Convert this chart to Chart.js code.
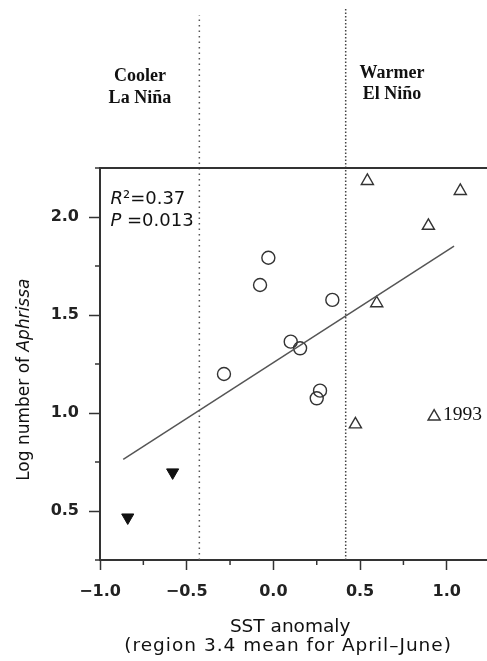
<!DOCTYPE html>
<html>
<head>
<meta charset="utf-8">
<script src="https://cdn.jsdelivr.net/npm/chart.js@4.4.0/dist/chart.umd.min.js"></script>
<style>
  html, body { margin: 0; padding: 0; background: #fff; }
  #wrap { width: 487px; height: 661px; }
</style>
</head>
<body>
<div id="wrap"><canvas id="c" width="487" height="661"></canvas></div>
<script>
// --- Data ---
// neutral years (open circles)
const normalX = [-0.285, -0.077, -0.029, 0.100, 0.154, 0.250, 0.269, 0.340];
const normalY = [1.199, 1.653, 1.792, 1.364, 1.330, 1.075, 1.114, 1.577];
// El Niño years (open triangles)
const ninoX = [0.473, 0.542, 0.596, 0.894, 0.927, 1.078];
const ninoY = [0.942, 2.184, 1.560, 1.955, 0.982, 2.133];
// La Niña years (filled, pointing down)
const ninaX = [-0.840, -0.581];
const ninaY = [0.467, 0.697];
// regression line end points
const fitX = [-0.866, 1.042];
const fitY = [0.764, 1.852];
// dotted threshold lines
const thresholdX = [-0.427, 0.417];
const thresholdTop = [3.03, 3.07];

const xTicks = [-1.0, -0.75, -0.5, -0.25, 0, 0.25, 0.5, 0.75, 1.0];
const yTicks = [0.25, 0.5, 0.75, 1.0, 1.25, 1.5, 1.75, 2.0, 2.25];

const ink = '#333';
const sans = 'DejaVu Sans';
const serif = 'Liberation Serif';

const xy = (xs, ys) => xs.map((x, i) => ({ x, y: ys[i] }));
const isMajor = v => Math.abs(v * 2 - Math.round(v * 2)) < 1e-6;
const fmt = v => v.toFixed(1).replace('-', '\u2212');

// draw a line of text made of runs with different fonts
function drawRuns(ctx, runs, x, y, align) {
    let total = 0;
    runs.forEach(r => { ctx.font = r.font; total += ctx.measureText(r.text).width; });
    let cx = align === 'center' ? x - total / 2 : x;
    ctx.textAlign = 'left';
    ctx.textBaseline = 'middle';
    runs.forEach(r => {
        ctx.font = r.font;
        ctx.fillText(r.text, cx, y);
        cx += ctx.measureText(r.text).width;
    });
}

const annotate = {
    id: 'annotate',
    afterDraw(chart) {
        const { ctx, chartArea: a, scales: { x, y } } = chart;
        ctx.save();
        ctx.strokeStyle = ink;

        // minor ticks (shorter)
        ctx.lineWidth = 1.5;
        xTicks.filter(v => !isMajor(v)).forEach(v => {
            const px = x.getPixelForValue(v);
            ctx.beginPath(); ctx.moveTo(px, a.bottom); ctx.lineTo(px, a.bottom + 5); ctx.stroke();
        });
        yTicks.filter(v => !isMajor(v)).forEach(v => {
            const py = y.getPixelForValue(v);
            ctx.beginPath(); ctx.moveTo(a.left, py); ctx.lineTo(a.left - 5, py); ctx.stroke();
        });

        // top frame line
        ctx.lineWidth = 2;
        ctx.beginPath(); ctx.moveTo(a.left, a.top); ctx.lineTo(a.right, a.top); ctx.stroke();

        ctx.fillStyle = '#111';

        // y axis title
        ctx.save();
        ctx.translate(25, y.getPixelForValue(1.17));
        ctx.rotate(-Math.PI / 2);
        drawRuns(ctx, [
            { text: 'Log number of ', font: `17px "${sans}"` },
            { text: 'Aphrissa', font: `italic 17px "${sans}"` }
        ], 0, 0, 'center');
        ctx.restore();

        // x axis title
        const tx = x.getPixelForValue(0.085);
        ctx.font = `18.5px "${sans}"`;
        ctx.textAlign = 'center';
        ctx.textBaseline = 'middle';
        ctx.fillText('SST anomaly', tx + 2, 627);
        ctx.letterSpacing = '1px';
        ctx.fillText('(region 3.4 mean for April\u2013June)', tx, 646);
        ctx.letterSpacing = '0px';

        // statistics
        const sx = x.getPixelForValue(-0.94);
        drawRuns(ctx, [
            { text: 'R', font: `italic 18px "${sans}"` },
            { text: '\u00b2=0.37', font: `18px "${sans}"` }
        ], sx, y.getPixelForValue(2.092), 'left');
        drawRuns(ctx, [
            { text: 'P', font: `italic 18px "${sans}"` },
            { text: ' =0.013', font: `18px "${sans}"` }
        ], sx, y.getPixelForValue(1.98), 'left');

        // 1993 label
        ctx.font = `19.5px "${serif}"`;
        ctx.textAlign = 'left';
        ctx.textBaseline = 'middle';
        ctx.fillText('1993', x.getPixelForValue(ninoX[4]) + 9, y.getPixelForValue(0.99));

        // regime labels above the plot
        ctx.font = `bold 18px "${serif}"`;
        ctx.textAlign = 'center';
        const cx = x.getPixelForValue(-0.77);
        ctx.fillText('Cooler', cx, y.getPixelForValue(2.72));
        ctx.fillText('La Niña', cx, y.getPixelForValue(2.607));
        const wx = x.getPixelForValue(0.684);
        ctx.fillText('Warmer', wx, y.getPixelForValue(2.735));
        ctx.fillText('El Niño', wx, y.getPixelForValue(2.627));

        ctx.restore();
    }
};

new Chart(document.getElementById('c'), {
    type: 'scatter',
    data: {
        datasets: [
            {
                label: 'cool threshold',
                data: [{ x: thresholdX[0], y: 0.25 }, { x: thresholdX[0], y: thresholdTop[0] }],
                showLine: true, borderColor: '#555', borderWidth: 1.5, borderDash: [1.5, 4],
                pointRadius: 0, clip: false
            },
            {
                label: 'warm threshold',
                data: [{ x: thresholdX[1], y: 0.25 }, { x: thresholdX[1], y: thresholdTop[1] }],
                showLine: true, borderColor: '#444', borderWidth: 1.5, borderDash: [1.5, 2],
                pointRadius: 0, clip: false
            },
            {
                label: 'fit',
                data: xy(fitX, fitY),
                showLine: true, borderColor: '#555', borderWidth: 1.5, pointRadius: 0
            },
            {
                label: 'neutral',
                data: xy(normalX, normalY),
                pointStyle: 'circle', pointRadius: 6.5, borderWidth: 1.4,
                borderColor: ink, backgroundColor: 'rgba(255,255,255,0)'
            },
            {
                label: 'El Niño',
                data: xy(ninoX, ninoY),
                pointStyle: 'triangle', pointRadius: 7, borderWidth: 1.4,
                borderColor: ink, backgroundColor: 'rgba(255,255,255,0)'
            },
            {
                label: 'La Niña',
                data: xy(ninaX, ninaY),
                pointStyle: 'triangle', rotation: 180, pointRadius: 7, borderWidth: 1,
                borderColor: '#111', backgroundColor: '#111'
            }
        ]
    },
    options: {
        responsive: false,
        animation: false,
        devicePixelRatio: 1,
        layout: { autoPadding: false, padding: { top: 168, right: 0, left: 0, bottom: 0 } },
        plugins: { legend: { display: false }, tooltip: { enabled: false } },
        scales: {
            x: {
                type: 'linear', min: -1, max: 1.232,
                afterBuildTicks: s => { s.ticks = xTicks.map(v => ({ value: v })); },
                afterFit: s => { s.height = 101; s.paddingLeft = 0; s.paddingRight = 0; },
                ticks: {
                    autoSkip: false, maxRotation: 0, padding: 12, color: '#222',
                    font: { family: sans, size: 16, weight: 'bold' },
                    callback: v => isMajor(v) ? fmt(v) : ''
                },
                grid: {
                    drawOnChartArea: false, drawTicks: true, tickLength: 10, tickWidth: 1.5,
                    tickColor: c => (c.tick && isMajor(c.tick.value)) ? ink : 'rgba(0,0,0,0)'
                },
                border: { display: true, color: ink, width: 2 },
                title: { display: false }
            },
            y: {
                type: 'linear', min: 0.25, max: 2.25,
                afterBuildTicks: s => { s.ticks = yTicks.map(v => ({ value: v })); },
                afterFit: s => { s.width = 100; },
                ticks: {
                    autoSkip: false, padding: 10, color: '#222',
                    font: { family: sans, size: 16, weight: 'bold' },
                    callback: v => isMajor(v) ? fmt(v) : ''
                },
                grid: {
                    drawOnChartArea: false, drawTicks: true, tickLength: 11, tickWidth: 1.5,
                    tickColor: c => (c.tick && isMajor(c.tick.value)) ? ink : 'rgba(0,0,0,0)'
                },
                border: { display: true, color: ink, width: 2 }
            }
        }
    },
    plugins: [annotate]
});
</script>
</body>
</html>
